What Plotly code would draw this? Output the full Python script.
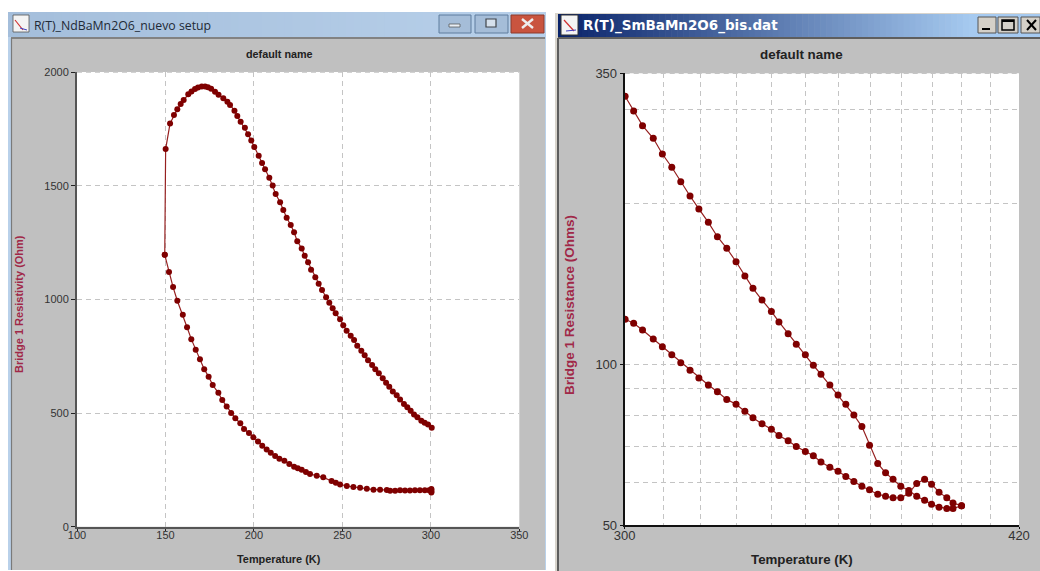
import plotly.graph_objects as go

# ---- data: left window ----
nd_cool_T = [149.6,152,154.3,156.7,159.8,162.2,164.6,167.1,169.5,171.9,174.4,176.7,179.9,182.1,184.6,187.1,189.5,192.3,194.4,197.2,199.7,202.3,204.7,207.2,209.5,212,214.4,217.2,220,222.7,224.8,227,229.4,231.7,235.5,239.2,243.9,246.3,248.7,252.5,256.2,260,263.8,267.6,271.3,275.1,277,279.8,282.6,285.4,288.2,291,293.8,296.6,299,300.3,300.3,300.3,300.3]
nd_cool_R = [1196,1120,1054,994,932,877,825,778,736,693,660,623,589,557,529,500,477,455,430,412,393,375,356,340,325,311,299,290,276,264,257,250,241,232,224,217,201,193,186,179,175,171,167,163,163,161,158,158,160,159,159,160,160,160,160,162,155,166,150]
nd_heat_T = [149.6,150.1,152.6,154.8,156.7,158.6,160.3,162.9,164.7,166.7,168.4,170.5,172.4,174,175.8,178,180,182.7,185,186.5,189,190.6,192.5,194.9,196.7,198.5,200.2,202.7,204.6,206.3,208.7,210.6,212.3,214.8,216.6,218.5,220.8,222.7,224.5,227,228.7,230.6,232.3,234.7,236.6,238.5,240.8,242.6,244.5,246.2,248.7,250.5,252.4,254.7,256.6,258.4,260.7,262.6,264.5,266.8,268.6,270.6,272.8,274.7,276.5,278.5,280.7,282.6,284.8,286.7,288.6,290.5,292.4,294.6,296.5,298.4,300.5]
nd_heat_R = [1196,1661,1774,1811,1836,1859,1877,1902,1914,1925,1932,1936,1936,1933,1926,1913,1900,1884,1869,1855,1830,1806,1781,1755,1726,1699,1670,1632,1600,1572,1535,1501,1463,1427,1393,1359,1327,1295,1256,1224,1192,1163,1130,1097,1069,1041,1009,985,961,939,912,886,862,840,821,796,774,754,732,711,692,675,653,633,616,595,578,559,540,525,510,493,481,466,457,449,435]

# ---- data: right window ----
sm_a_T = [300.1,302.3,304.6,307.4,309.8,312.3,314.7,317.2,319.6,322.2,324.7,327.3,329.9,332.4,334.7,337.3,340,342.2,344.9,347.3,350,352.4,354.7,357.4,359.9,362.3,364.8,367.3,369.7,372.3,374.8,377.2,379.7,382.3,384.9,387.5,389.8,392.3,394.9,397,399.9]
sm_a_R = [317,297.6,279.3,264.5,247.2,233.5,219.4,206.3,195.1,184.2,173.1,164.7,155.4,146.2,138.6,131.8,125.5,119.9,114,108.9,104.1,99.5,95.7,91.4,87.5,84.1,80.3,76.4,70.5,65.2,62.6,60.9,59.1,58,56.6,55.6,54.7,54,53.7,53.7,54.3]
sm_b_T = [300.1,302.3,304.6,307.4,309.8,312.3,314.7,317.2,319.6,322.2,324.7,327.3,329.9,332.4,334.7,337.3,340,342.2,344.9,347.3,350,352.4,354.7,357.4,359.9,362.3,364.8,367.3,369.7,372.3,374.8,377.2,379.7,382.3,384.9,387.5,389.8,392.3,394.9,397,399.9]
sm_b_R = [121.3,119.2,115.8,111.4,107.8,104.1,100.6,97.4,94.2,91.4,88.8,85.9,84.1,81.6,79.4,77.3,75.5,73.5,71.9,70.1,68.6,67.4,65.6,64.1,63,61.6,60.3,59.1,58.2,57.1,56.6,56.2,56.2,57.3,59.8,60.9,59.6,57.6,56.2,55,54.3]

left_xticks = [100,150,200,250,300,350]
left_yticks = [0,500,1000,1500,2000]
right_xticks = [300,420]
right_yticks = [50,100,350]
right_xgrid = [310,320,330,340,350,360,370,380,390,400,410]
right_ygrid = [60,70,80,90,100,200,300,350]

MAROON = "#7f0000"
LINE = "#962020"
GRID = "#c4c4c4"
GRAY = "#c0c0c0"
W, H = 1040, 571
FONT = "Liberation Sans"

fig = go.Figure()
fig.add_trace(go.Scatter(x=nd_cool_T, y=nd_cool_R, mode="lines+markers", xaxis="x", yaxis="y",
    line=dict(color=LINE, width=1.2), marker=dict(color=MAROON, size=6), showlegend=False))
fig.add_trace(go.Scatter(x=nd_heat_T, y=nd_heat_R, mode="lines+markers", xaxis="x", yaxis="y",
    line=dict(color=LINE, width=1.2), marker=dict(color=MAROON, size=6), showlegend=False))
fig.add_trace(go.Scatter(x=sm_a_T, y=sm_a_R, mode="lines+markers", xaxis="x2", yaxis="y2",
    line=dict(color=LINE, width=1.2), marker=dict(color=MAROON, size=7), showlegend=False))
fig.add_trace(go.Scatter(x=sm_b_T, y=sm_b_R, mode="lines+markers", xaxis="x2", yaxis="y2",
    line=dict(color=LINE, width=1.2), marker=dict(color=MAROON, size=7), showlegend=False))

shapes = []
def rect(x0, y0, x1, y1, fill, line=None, lw=0):
    shapes.append(dict(type="rect", xref="paper", yref="paper", layer="below",
        x0=x0/W, x1=x1/W, y0=1-y0/H, y1=1-y1/H, fillcolor=fill,
        line=dict(color=line or fill, width=lw)))
def seg(x0, y0, x1, y1, color, lw=1, dash=None):
    shapes.append(dict(type="line", xref="paper", yref="paper", layer="below",
        x0=x0/W, x1=x1/W, y0=1-y0/H, y1=1-y1/H, line=dict(color=color, width=lw, dash=dash or "solid")))
def mix(a, b, t):
    return "rgb(%d,%d,%d)" % tuple(round(a[i] + (b[i]-a[i])*t) for i in range(3))
def gradient(x0, x1, y0, y1, a, b, n=70):
    for i in range(n):
        xa = x0 + (x1-x0)*i/n
        xb = x0 + (x1-x0)*(i+1)/n + 0.6
        rect(xa, y0, min(xb, x1), y1, mix(a, b, i/(n-1)))

# left window
rect(8, 12, 546, 570, "#b9d1ea")
gradient(8, 546, 12, 37, (164,190,219), (184,208,234))
rect(11, 37, 545, 570, GRAY)
seg(11, 38, 545, 38, "#6e6e6e", 1.5)
seg(11.5, 38, 11.5, 570, "#7a7a7a", 1.2)
rect(77, 72, 519.3, 526.7, "#ffffff")
seg(77, 72, 519.3, 72, GRID, 1.5, "5px,4px")
# left window buttons
rect(439, 15, 471, 33, "#a5bdd8", "#5f7c9e", 1)
rect(475, 15, 508, 33, "#a5bdd8", "#5f7c9e", 1)
rect(511, 15, 544, 33, "#c9543f", "#8c3a2c", 1)
rect(449, 24, 460, 27, "#e8eef5", "#4a4a4a", 0.7)
rect(486, 19, 496, 27, "#d5e0ec", "#40444a", 1.2)
seg(522, 19, 533, 28, "#eeeeee", 2.4)
seg(533, 19, 522, 28, "#eeeeee", 2.4)
# left icon
rect(13, 15, 29, 32, "#f4f4f4", "#555555", 0.8)
seg(15, 20, 23, 30, "#d03030", 1.2)
seg(20, 28, 27, 30, "#4040c0", 1)

# right window
rect(555, 13, W, 571, "#d8d4cc")
gradient(558, 975, 14, 37, (10,36,106), (166,202,240))
rect(975, 14, W, 37, "#a6caf0")
rect(559, 38, W, 571, GRAY)
seg(558, 38, W, 38, "#5e5e5e", 2)
seg(558, 38, 558, 571, "#5e5e5e", 2)
rect(624.7, 73.3, 1019, 525, "#ffffff")
seg(624.7, 73.3, 1019, 73.3, GRID, 1.5, "5px,4px")
# right window buttons
for bx0, bx1 in [(978, 996), (998, 1018), (1021, 1040)]:
    rect(bx0, 17, bx1, 33, "#d4d0c8", "#555555", 1)
rect(982, 28, 990, 30, "#000000")
rect(1002, 20, 1014, 30, "rgba(0,0,0,0)", "#000000", 1.5)
seg(1002, 21, 1014, 21, "#000000", 2)
seg(1027, 20, 1036, 30, "#000000", 2)
seg(1036, 20, 1027, 30, "#000000", 2)
# right icon
rect(561, 15, 578, 35, "#f4f4f4", "#333333", 1)
seg(564, 20, 574, 31, "#d03030", 1.2)
seg(566, 31, 576, 30, "#4040c0", 1)

def ann(text, x, y, size, color="#222222", bold=False, family=FONT, anchor="center", angle=0):
    return dict(text=("<b>%s</b>" % text) if bold else text, x=x/W, y=1-y/H, xref="paper", yref="paper",
        showarrow=False, xanchor=anchor, yanchor="middle", textangle=angle,
        font=dict(size=size, color=color, family=family))

annotations = [
    ann("R(T)_NdBaMn2O6_nuevo setup", 32, 25, 12.3, "#1f2a36", family="Open Sans", anchor="left"),
    ann("R(T)_SmBaMn2O6_bis.dat", 581, 25.5, 13.5, "#ffffff", True, "DejaVu Sans", "left"),
    ann("default name", 279, 54, 10.8, "#222222", True),
    ann("default name", 801, 55, 13.4, "#222222", True),
    ann("Temperature (K)", 279, 559, 10.9, "#222222", True),
    ann("Temperature (K)", 802, 559, 13.3, "#222222", True),
    ann("Bridge 1 Resistivity (Ohm)", 19, 304, 11, "#a02848", True, angle=-90),
    ann("Bridge 1 Resistance (Ohms)", 569, 305, 13.5, "#a02848", True, angle=-90),
]

tick_l = dict(family=FONT, size=11, color="#333333")
tick_r = dict(family=FONT, size=13, color="#333333")
DASH = "5px,4px"

fig.update_layout(
    width=W, height=H, autosize=False,
    margin=dict(l=0, r=0, t=0, b=0, pad=0, autoexpand=False),
    paper_bgcolor="#ffffff", plot_bgcolor="#ffffff",
    shapes=shapes, annotations=annotations, showlegend=False,
    xaxis=dict(domain=[77/W, 519.3/W], range=[100, 350], tickmode="array", tickvals=left_xticks,
        ticks="outside", ticklen=2, tickcolor="#222", tickfont=tick_l, ticklabelstandoff=-5, showgrid=True, gridcolor=GRID,
        griddash=DASH, gridwidth=1, showline=True, linecolor="#555555", linewidth=2, zeroline=False, anchor="y"),
    yaxis=dict(domain=[1-526.7/H, 1-72/H], range=[0, 2000], tickmode="array", tickvals=left_yticks,
        ticks="outside", ticklen=4, tickcolor="#222", tickfont=tick_l, showgrid=True, gridcolor=GRID,
        griddash=DASH, gridwidth=1, showline=True, linecolor="#555555", linewidth=2, zeroline=False, anchor="x"),
    xaxis2=dict(domain=[624.7/W, 1019/W], type="log", range=[2.477121, 2.623249], tickmode="array",
        tickvals=right_xticks, ticks="outside", ticklen=2, tickcolor="#111", tickfont=tick_r, ticklabelstandoff=-5, showgrid=False,
        showline=True, linecolor="#111111", linewidth=2, zeroline=False, anchor="y2",
        minor=dict(tickmode="array", tickvals=right_xgrid, showgrid=True, gridcolor=GRID, griddash=DASH, gridwidth=1, ticks="")),
    yaxis2=dict(domain=[1-525/H, 1-73.3/H], type="log", range=[1.69897, 2.544068], tickmode="array",
        tickvals=right_yticks, ticks="outside", ticklen=3, tickcolor="#111", tickfont=tick_r, showgrid=False,
        showline=True, linecolor="#111111", linewidth=2, zeroline=False, anchor="x2",
        minor=dict(tickmode="array", tickvals=right_ygrid, showgrid=True, gridcolor=GRID, griddash=DASH, gridwidth=1, ticks="")),
)

fig.write_html("out.html", config=dict(displayModeBar=False), default_height=H, default_width=W,
    post_script="document.body.style.margin='0';document.documentElement.style.overflow='hidden';")
